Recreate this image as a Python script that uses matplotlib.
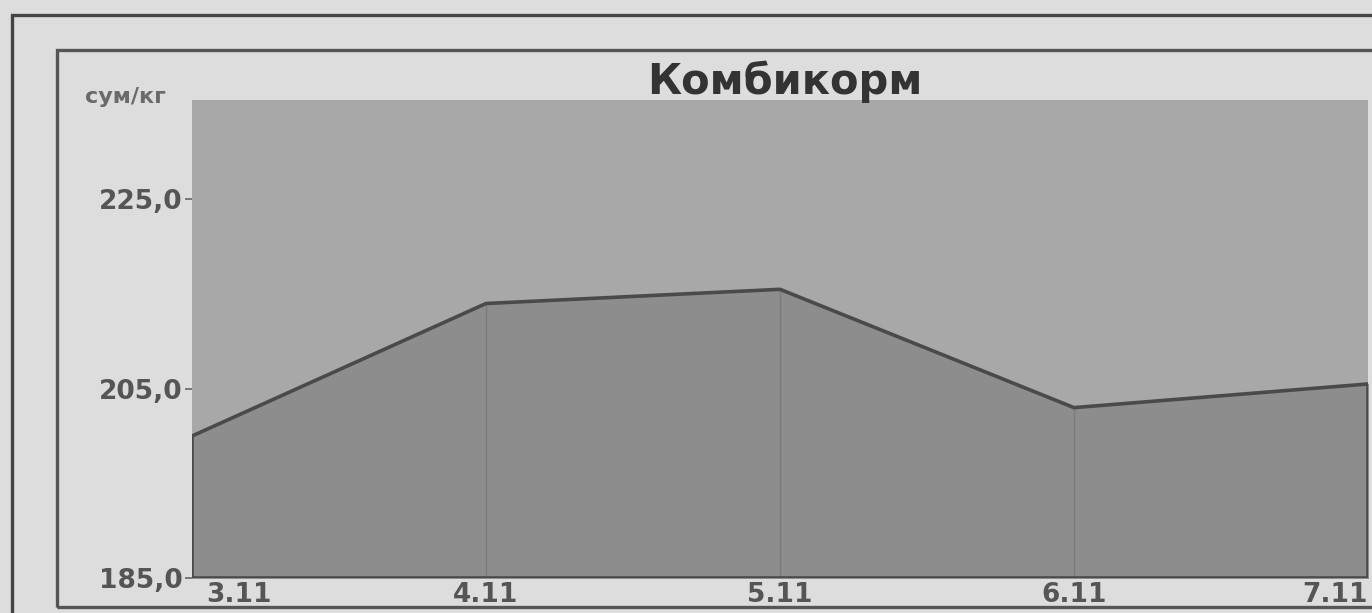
import numpy as np
import matplotlib
matplotlib.use("Agg")
import matplotlib.pyplot as plt
from matplotlib.patches import Rectangle
from matplotlib.transforms import ScaledTranslation

# data
dates = ["3.11", "4.11", "5.11", "6.11", "7.11"]
prices = [200.0, 214.0, 215.5, 203.0, 205.5]
y_ticks = [185.0, 205.0, 225.0]
y_labels = ["185,0", "205,0", "225,0"]

plt.rcParams['font.family'] = ['DejaVu Sans']

W, H = 1372, 613
fig = plt.figure(figsize=(W / 100, H / 100), dpi=100)
fig.patch.set_facecolor('#dddddd')

# frames of the scanned page
fig.patches.append(Rectangle((12 / W, -0.1), 1.2, 1 - 15 / H + 0.1, transform=fig.transFigure,
                             fill=False, edgecolor='#444444', linewidth=2.4))
fig.patches.append(Rectangle((57 / W, 1 - 607 / H), 1.2, (607 - 50) / H, transform=fig.transFigure,
                             fill=False, edgecolor='#555555', linewidth=2.4))

ax = fig.add_axes([192 / W, 1 - 578 / H, (1368 - 192) / W, (578 - 100) / H])
ax.set_facecolor('#a8a8a8')

x = np.arange(len(dates))
ax.fill_between(x, y_ticks[0], prices, color='#8d8d8d', zorder=2)
for xi, p in zip(x[1:-1], prices[1:-1]):
    ax.plot([xi, xi], [y_ticks[0], p], color='#7b7b7b', linewidth=1.0, zorder=3)
# outline of the area
ax.plot(np.r_[x[0], x, x[-1], x[0]], np.r_[y_ticks[0], prices, y_ticks[0], y_ticks[0]],
        color='#4a4a4a', linewidth=2.6, zorder=4, solid_joinstyle='round')

ax.set_xlim(x[0], x[-1])
ax.set_ylim(185, 235.5)
for s in ax.spines.values():
    s.set_visible(False)

ax.set_yticks(y_ticks)
ax.set_yticklabels(y_labels, fontsize=19, fontweight='bold', color='#555555')
ax.tick_params(axis='y', length=5, width=1.2, color='#666666', pad=2)
ax.set_xticks(x)
ax.set_xticklabels(dates, fontsize=19, fontweight='bold', color='#555555')
ax.tick_params(axis='x', length=0, pad=3)
labels = ax.get_xticklabels()
labels[0].set_ha('left')
labels[0].set_transform(labels[0].get_transform() + ScaledTranslation(0.14, 0, fig.dpi_scale_trans))
labels[-1].set_ha('right')

fig.text(785 / W, 1 - 82 / H, "Комбикорм", ha='center', va='center',
         fontsize=30, fontweight='bold', color='#333333')
fig.text(85 / W, 1 - 97 / H, "сум/кг", ha='left', va='center',
         fontsize=16, fontweight='bold', color='#6a6a6a')

fig.savefig("out.png", dpi=100, facecolor=fig.get_facecolor())
